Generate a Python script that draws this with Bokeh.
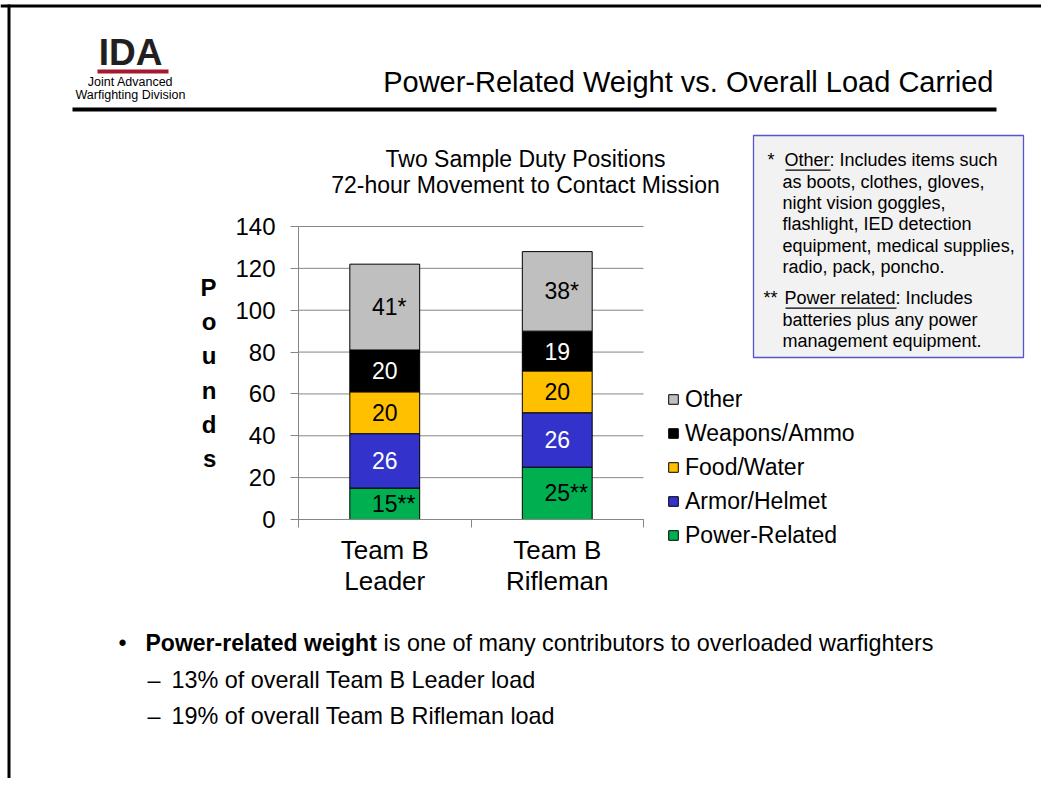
from bokeh.plotting import figure
from bokeh.models import (ColumnDataSource, Range1d, FixedTicker, LabelSet, Label,
                          BoxAnnotation, Legend, LegendItem)
from bokeh.core.properties import value
from bokeh.embed import file_html
from bokeh.resources import INLINE

# ---------------- data ----------------
categories = ["Team B\nLeader", "Team B\nRifleman"]
series_names = ["Power-Related", "Armor/Helmet", "Food/Water", "Weapons/Ammo", "Other"]
power_related = [15, 25]
armor_helmet = [26, 26]
food_water = [20, 20]
weapons_ammo = [20, 19]
other = [41, 38]
label_marks = ["**", "", "", "", "*"]
y_ticks = [0, 20, 40, 60, 80, 100, 120, 140]

# ---------------- style / layout ----------------
FONT = "Liberation Sans"
COLORS = ["#00b050", "#3333cc", "#ffc000", "#000000", "#bfbfbf"]
TEXT_COLORS = ["#000000", "#ffffff", "#000000", "#ffffff", "#000000"]
GRID = "#868686"

W, H = 1041, 778
CH_L, CH_R, CH_T, CH_B = 298, 643, 226, 519   # chart plotting area on the slide (px)
NCAT = len(categories)
YMAX = y_ticks[-1]
PX_X = (CH_R - CH_L) / NCAT
PX_Y = (CH_B - CH_T) / YMAX

# the whole slide is the plot frame; chart ranges are extended so the chart sits in place
p = figure(width=W, height=H, output_backend="svg", toolbar_location=None,
           x_range=Range1d(-CH_L / PX_X, NCAT + (W - CH_R) / PX_X),
           y_range=Range1d(-(H - CH_B) / PX_Y, YMAX + CH_T / PX_Y),
           min_border=0)
p.outline_line_color = None
p.background_fill_color = "white"
p.border_fill_color = "white"
p.grid.visible = False


def sx(ix):
    return ix


def sy(iy):
    return H - iy


def text(ix, iy, s, size, align="left", bold=False, color="#000000"):
    # iy is the baseline on the slide; shift so the rendered glyphs sit on it
    p.add_layout(Label(x=sx(ix), y=sy(iy - 0.4 * size), x_units="screen", y_units="screen",
                       text=s, text_font=FONT, text_font_size=f"{size}px",
                       text_font_style="bold" if bold else "normal",
                       text_align=align, text_baseline="alphabetic", text_color=color))


def box(l, t, r, b, color, line=None, lw=1):
    p.add_layout(BoxAnnotation(left=sx(l), right=sx(r), top=sy(t), bottom=sy(b),
                               left_units="screen", right_units="screen",
                               top_units="screen", bottom_units="screen",
                               fill_color=color, fill_alpha=1,
                               line_color=line, line_alpha=1 if line else 0,
                               line_width=lw))


# ---------------- chart ----------------
p.segment(x0=[0] * len(y_ticks), x1=[NCAT] * len(y_ticks), y0=y_ticks, y1=y_ticks,
          line_color=GRID, line_width=1)

keys = ["power_related", "armor_helmet", "food_water", "weapons_ammo", "other"]
values = [power_related, armor_helmet, food_water, weapons_ammo, other]
xs = [i + 0.5 for i in range(NCAT)]
src = ColumnDataSource(dict(x=xs, **{k: v for k, v in zip(keys, values)}))
rs = p.vbar_stack(keys, x="x", width=0.405, color=COLORS, line_color="#000000",
                  line_width=1, source=src)

lx, ly, lt, lc, lo = [], [], [], [], []
for ci in range(NCAT):
    base = 0
    for si, vals in enumerate(values):
        v = vals[ci]
        lx.append(xs[ci])
        ly.append(base + v / 2)
        lt.append(f"{v}{label_marks[si]}")
        lc.append(TEXT_COLORS[si])
        lo.append(4.5 * len(label_marks[si]))
        base += v
lsrc = ColumnDataSource(dict(x=lx, y=ly, t=lt, c=lc, o=lo))
p.add_layout(LabelSet(x="x", y="y", text="t", source=lsrc, text_color="c", x_offset="o",
                      text_font=value(FONT), text_font_size=value("23px"),
                      text_align="center", text_baseline="middle"))

p.yaxis.fixed_location = 0
p.yaxis.bounds = (0, YMAX)
p.yaxis.ticker = FixedTicker(ticks=y_ticks)
p.yaxis.axis_line_color = GRID
p.yaxis.major_tick_line_color = GRID
p.yaxis.major_tick_out = 8
p.yaxis.major_tick_in = 0
p.yaxis.minor_tick_line_color = None
p.yaxis.major_label_text_font = FONT
p.yaxis.major_label_text_font_size = "24px"
p.yaxis.major_label_text_color = "#000000"
p.yaxis.major_label_standoff = 15
p.yaxis.axis_label = "\n".join("Pounds")
p.yaxis.axis_label_orientation = "horizontal"
p.yaxis.axis_label_text_font = FONT
p.yaxis.axis_label_text_font_size = "24px"
p.yaxis.axis_label_text_font_style = "bold"
p.yaxis.axis_label_text_color = "#000000"
p.yaxis.axis_label_text_line_height = 1.27
p.yaxis.axis_label_text_align = "center"
p.yaxis.axis_label_standoff = 16

p.xaxis.fixed_location = 0
p.xaxis.bounds = (0, NCAT)
p.xaxis.ticker = FixedTicker(ticks=xs, minor_ticks=list(range(NCAT + 1)))
p.xaxis.major_label_overrides = {x: c for x, c in zip(xs, categories)}
p.xaxis.axis_line_color = GRID
p.xaxis.major_tick_line_color = None
p.xaxis.major_tick_out = 0
p.xaxis.minor_tick_line_color = GRID
p.xaxis.minor_tick_out = 8
p.xaxis.minor_tick_in = 0
p.xaxis.major_label_text_font = FONT
p.xaxis.major_label_text_font_size = "26px"
p.xaxis.major_label_text_color = "#000000"
p.xaxis.major_label_text_line_height = 1.065
p.xaxis.major_label_standoff = 7

legend = Legend(items=[LegendItem(label=series_names[i], renderers=[rs[i]])
                       for i in reversed(range(len(series_names)))],
                location=(sx(667), sy(548.5)),
                glyph_width=12, glyph_height=12, label_height=27, spacing=7,
                label_standoff=6, padding=0, margin=0,
                label_text_font=FONT, label_text_font_size="23px",
                label_text_color="#000000",
                border_line_color=None, background_fill_alpha=0)
p.add_layout(legend)

# ---------------- slide decorations ----------------
box(0, 4, W, 7, "#000000")              # top border
box(7, 4, 10, H, "#000000")             # left border
box(72, 107, 996, 111, "#000000")       # title underline
box(97, 69, 168, 73, "#a6192e")         # logo red rule

text(130, 67, "IDA", 37, align="center", bold=True, color="#231f20")
text(130, 86, "Joint Advanced", 12.5, align="center")
text(130, 99.5, "Warfighting Division", 12.5, align="center")
text(993, 93, "Power-Related Weight vs. Overall Load Carried", 29, align="right")

text(525, 168, "Two Sample Duty Positions", 23, align="center")
text(525, 193.5, "72-hour Movement to Contact Mission", 23, align="center")

box(753, 135, 1023, 357, "#f2f2f2", line="#5555cc", lw=1.3)
NS = 18
text(767, 167, "*", NS)
text(784, 167, "Other:  Includes items such", NS)
note1 = ["as boots, clothes, gloves,", "night vision goggles,", "flashlight, IED detection",
         "equipment, medical supplies,", "radio, pack, poncho."]
for i, s in enumerate(note1):
    text(782, 188.3 + 21.3 * i, s, NS)
text(763, 305, "**", NS)
text(784, 305, "Power related:  Includes", NS)
note2 = ["batteries plus any power", "management equipment."]
for i, s in enumerate(note2):
    text(782, 326.5 + 21.3 * i, s, NS)
box(785, 169, 785 + 2.501 * NS, 170.2, "#000000")     # underline "Other"
box(785, 307, 785 + 6.169 * NS, 308.2, "#000000")     # underline "Power related"

BS, BN = 23, 23.4
text(118, 652, "\u2022", BS)
text(145, 652, "Power-related weight", BS, bold=True)
text(383, 652, "is one of many contributors to overloaded warfighters", BN)
text(147, 689, "\u2013", BN)
text(171, 689, "13% of overall Team B Leader load", BN)
text(147, 725, "\u2013", BN)
text(171, 725, "19% of overall Team B Rifleman load", BN)

open("out.html", "w").write(file_html(p, INLINE,
                                      title="Power-Related Weight vs. Overall Load Carried"))
